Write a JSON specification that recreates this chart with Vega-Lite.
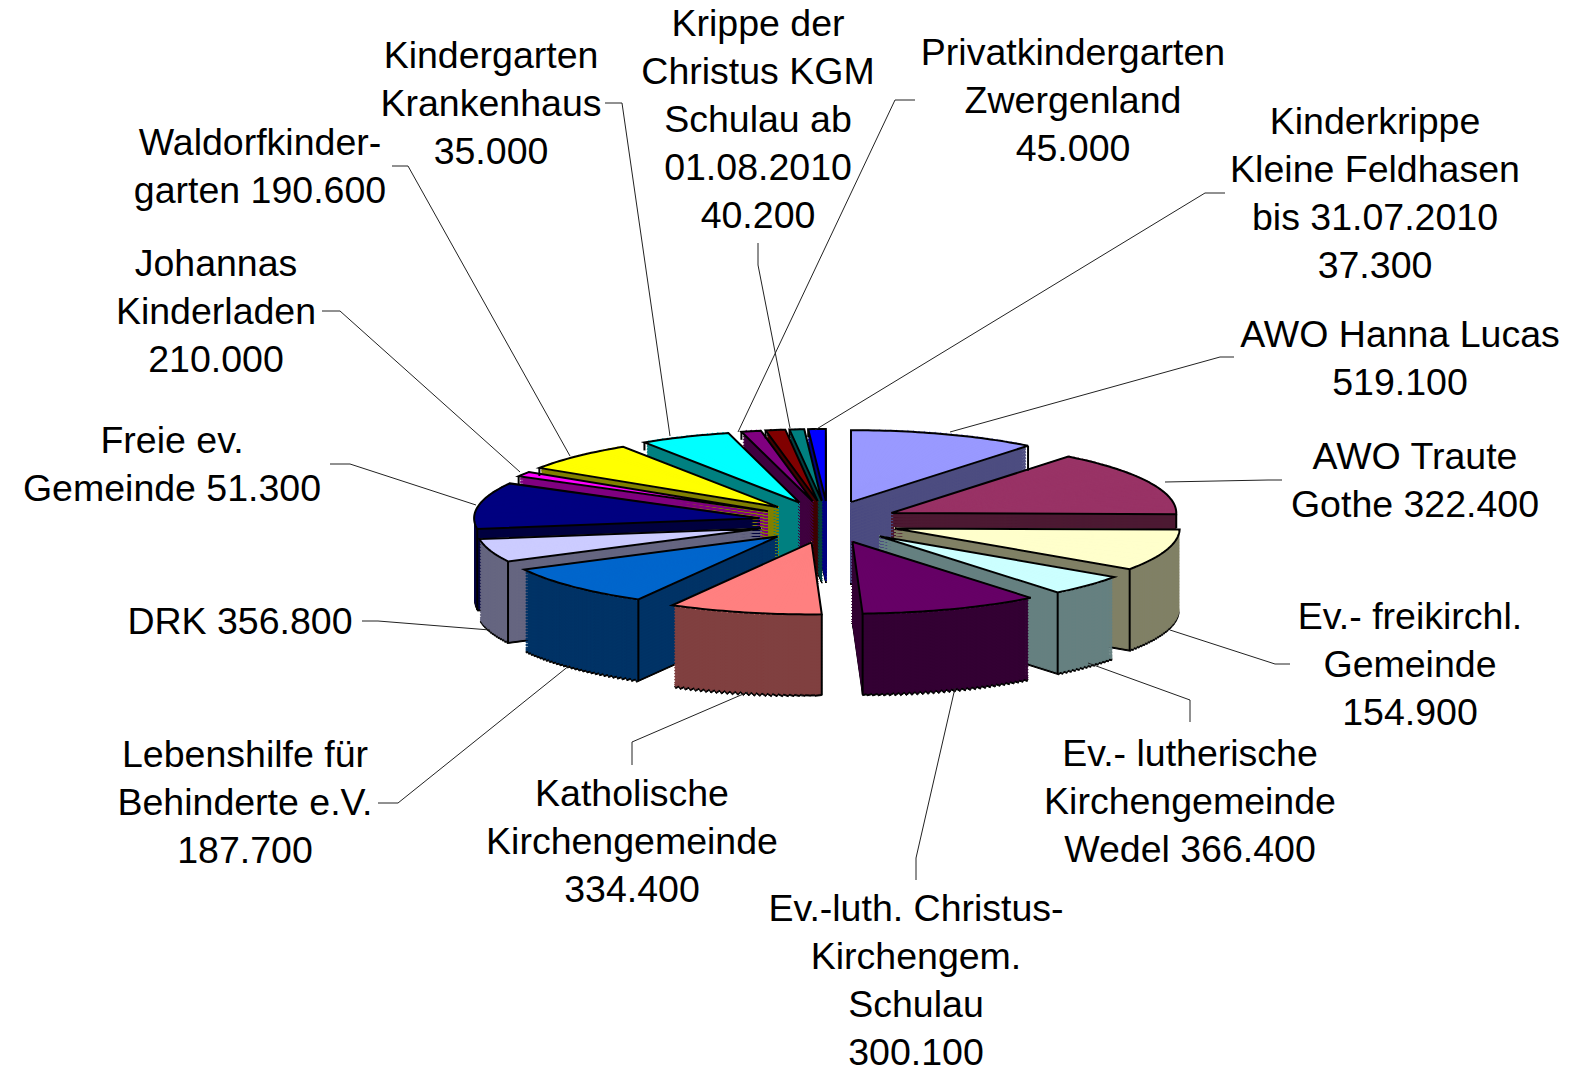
{"$schema":"https://vega.github.io/schema/vega-lite/v6.json","width":1569,"height":1071,"autosize":{"type":"none"},"padding":0,"background":"white","config":{"view":{"stroke":null}},
"datasets":{"slices":[{"i":1,"name":"AWO Hanna Lucas","drawn":336},{"i":2,"name":"AWO Traute Gothe","drawn":460},{"i":3,"name":"Ev.- freikirchl. Gemeinde","drawn":293},{"i":4,"name":"Ev.- lutherische Kirchengemeinde Wedel","drawn":147},{"i":5,"name":"Ev.-luth. Christus-Kirchengem. Schulau","drawn":321},{"i":6,"name":"Katholische Kirchengemeinde","drawn":274},{"i":7,"name":"Lebenshilfe für Behinderte e.V.","drawn":293},{"i":8,"name":"DRK","drawn":164},{"i":9,"name":"Freie ev. Gemeinde","drawn":328},{"i":10,"name":"Johannas Kinderladen","drawn":35},{"i":11,"name":"Waldorfkindergarten","drawn":210},{"i":12,"name":"Kindergarten Krankenhaus","drawn":162},{"i":13,"name":"Privatkindergarten Zwergenland","drawn":35},{"i":14,"name":"ohne Beschriftung","drawn":35},{"i":15,"name":"Krippe der Christus KGM Schulau","drawn":26},{"i":16,"name":"Kinderkrippe Kleine Feldhasen","drawn":31}],
"labels":[{"i":0,"label":"AWO Hanna Lucas\n519.100","value":519100},{"i":1,"label":"AWO Traute\nGothe 322.400","value":322400},{"i":2,"label":"Ev.- freikirchl.\nGemeinde\n154.900","value":154900},{"i":3,"label":"Ev.- lutherische\nKirchengemeinde\nWedel 366.400","value":366400},{"i":4,"label":"Ev.-luth. Christus-\nKirchengem.\nSchulau\n300.100","value":300100},{"i":5,"label":"Katholische\nKirchengemeinde\n334.400","value":334400},{"i":6,"label":"Lebenshilfe für\nBehinderte e.V.\n187.700","value":187700},{"i":7,"label":"DRK 356.800","value":356800},{"i":8,"label":"Freie ev.\nGemeinde 51.300","value":51300},{"i":9,"label":"Johannas\nKinderladen\n210.000","value":210000},{"i":10,"label":"Waldorfkinder-\ngarten 190.600","value":190600},{"i":11,"label":"Kindergarten\nKrankenhaus\n35.000","value":35000},{"i":12,"label":"Krippe der\nChristus KGM\nSchulau ab\n01.08.2010\n40.200","value":40200},{"i":13,"label":"Privatkindergarten\nZwergenland\n45.000","value":45000},{"i":14,"label":"Kinderkrippe\nKleine Feldhasen\nbis 31.07.2010\n37.300","value":37300}]},
"data":{"name":"slices"},
"transform":[{"joinaggregate":[{"op":"sum","field":"drawn","as":"total"}]},{"window":[{"op":"sum","field":"drawn","as":"cum"}],"sort":[{"field":"i","order":"ascending"}]},{"calculate":"datum.cum/datum.total*2*PI","as":"a1"},{"calculate":"(datum.cum-datum.drawn)/datum.total*2*PI","as":"a0"},{"calculate":"(datum.a0+datum.a1)/2","as":"m"},{"calculate":"828+70*sin(datum.m)","as":"xc"},{"calculate":"522-21*cos(datum.m)","as":"yc"},{"calculate":"ceil((datum.a1-datum.a0)/0.02)","as":"n"},{"calculate":"(datum.a1-datum.a0)/datum.n","as":"da"}],
"layer":[
{"transform":[{"calculate":"sequence(0,datum.n)","as":"ks"},{"flatten":["ks"],"as":["k"]},{"calculate":"[0,3,6,9,12,15,18,21,24,27,30,33,36,39,42,45,48,51,54,57,60,63,66,69,72,75,78,80,82]","as":"ds"},{"flatten":["ds"],"as":["d"]},{"calculate":"datum.a0+datum.k*datum.da","as":"u0"},{"calculate":"min(datum.a1,datum.u0+datum.da+0.004)","as":"u1"},{"calculate":"(datum.u0+datum.u1)/2","as":"um"},{"calculate":"atan2(285*sin(datum.u0),72*cos(datum.u0))+(datum.u0>PI?2*PI:0)","as":"t0"},{"calculate":"atan2(285*sin(datum.u1),72*cos(datum.u1))+(datum.u1>PI?2*PI:0)","as":"t1"},{"calculate":"sqrt(pow(285*sin(datum.um),2)+pow(72*cos(datum.um),2))-0.5","as":"r"},{"calculate":"datum.yc+datum.d","as":"yd"},{"calculate":"datum.d==0?datum.name:datum.d==82?'Kante':datum.name+' Wand'","as":"part"},{"calculate":"round(-cos(datum.m)*1000)*1000-datum.d","as":"z"}],
"mark":{"type":"arc","strokeWidth":1,"strokeJoin":"round"},
"encoding":{"x":{"field":"xc","type":"quantitative","scale":null},"y":{"field":"yd","type":"quantitative","scale":null},"theta":{"field":"t0","type":"quantitative","scale":null,"stack":null},"theta2":{"field":"t1"},"radius":{"field":"r","type":"quantitative","scale":null},"order":{"field":"z","type":"quantitative"},
"stroke":{"field":"part","type":"nominal","legend":null,"scale":{"domain":["Kante","AWO Hanna Lucas","AWO Traute Gothe","Ev.- freikirchl. Gemeinde","Ev.- lutherische Kirchengemeinde Wedel","Ev.-luth. Christus-Kirchengem. Schulau","Katholische Kirchengemeinde","Lebenshilfe für Behinderte e.V.","DRK","Freie ev. Gemeinde","Johannas Kinderladen","Waldorfkindergarten","Kindergarten Krankenhaus","Privatkindergarten Zwergenland","ohne Beschriftung","Krippe der Christus KGM Schulau","Kinderkrippe Kleine Feldhasen","AWO Hanna Lucas Wand","AWO Traute Gothe Wand","Ev.- freikirchl. Gemeinde Wand","Ev.- lutherische Kirchengemeinde Wedel Wand","Ev.-luth. Christus-Kirchengem. Schulau Wand","Katholische Kirchengemeinde Wand","Lebenshilfe für Behinderte e.V. Wand","DRK Wand","Freie ev. Gemeinde Wand","Johannas Kinderladen Wand","Waldorfkindergarten Wand","Kindergarten Krankenhaus Wand","Privatkindergarten Zwergenland Wand","ohne Beschriftung Wand","Krippe der Christus KGM Schulau Wand","Kinderkrippe Kleine Feldhasen Wand"],"range":["#000000","#9999FF","#993366","#FFFFCC","#CCFFFF","#660066","#FF8080","#0066CC","#CCCCFF","#000080","#FF00FF","#FFFF00","#00FFFF","#800080","#800000","#008080","#0000FF","#4D4D80","#4D1A33","#808066","#668080","#330033","#804040","#003366","#666680","#000040","#800080","#808000","#008080","#400040","#400000","#004040","#000080"]}},
"color":{"field":"part","type":"nominal","legend":null,"scale":{"domain":["Kante","AWO Hanna Lucas","AWO Traute Gothe","Ev.- freikirchl. Gemeinde","Ev.- lutherische Kirchengemeinde Wedel","Ev.-luth. Christus-Kirchengem. Schulau","Katholische Kirchengemeinde","Lebenshilfe für Behinderte e.V.","DRK","Freie ev. Gemeinde","Johannas Kinderladen","Waldorfkindergarten","Kindergarten Krankenhaus","Privatkindergarten Zwergenland","ohne Beschriftung","Krippe der Christus KGM Schulau","Kinderkrippe Kleine Feldhasen","AWO Hanna Lucas Wand","AWO Traute Gothe Wand","Ev.- freikirchl. Gemeinde Wand","Ev.- lutherische Kirchengemeinde Wedel Wand","Ev.-luth. Christus-Kirchengem. Schulau Wand","Katholische Kirchengemeinde Wand","Lebenshilfe für Behinderte e.V. Wand","DRK Wand","Freie ev. Gemeinde Wand","Johannas Kinderladen Wand","Waldorfkindergarten Wand","Kindergarten Krankenhaus Wand","Privatkindergarten Zwergenland Wand","ohne Beschriftung Wand","Krippe der Christus KGM Schulau Wand","Kinderkrippe Kleine Feldhasen Wand"],"range":["#000000","#9999FF","#993366","#FFFFCC","#CCFFFF","#660066","#FF8080","#0066CC","#CCCCFF","#000080","#FF00FF","#FFFF00","#00FFFF","#800080","#800000","#008080","#0000FF","#4D4D80","#4D1A33","#808066","#668080","#330033","#804040","#003366","#666680","#000040","#800080","#808000","#008080","#400040","#400000","#004040","#000080"]}}}},
{"transform":[{"calculate":"sequence(-1,datum.n+2)","as":"ks"},{"flatten":["ks"],"as":["k"]},{"calculate":"datum.a0+datum.k*datum.da","as":"u"},{"calculate":"(datum.k<0||datum.k>datum.n)?datum.xc:datum.xc+285*sin(datum.u)","as":"px"},{"calculate":"(datum.k<0||datum.k>datum.n)?datum.yc:datum.yc-72*cos(datum.u)","as":"py"}],
"mark":{"type":"line","stroke":"#000000","strokeWidth":2},
"encoding":{"x":{"field":"px","type":"quantitative","scale":null},"y":{"field":"py","type":"quantitative","scale":null},"detail":{"field":"name"},"order":{"field":"k","type":"quantitative"}}},
{"transform":[{"calculate":"sin(datum.a1)>0?datum.a1:datum.a0","as":"f"},{"calculate":"datum.f<1?25:cos(datum.f)>-0.05?(sin(datum.f)>0?14:8):81","as":"vis"},{"calculate":"[0,1]","as":"ks"},{"flatten":["ks"],"as":["k"]},{"calculate":"datum.xc+285*sin(datum.f)","as":"px"},{"calculate":"datum.yc-72*cos(datum.f)+datum.k*datum.vis","as":"py"}],
"mark":{"type":"line","stroke":"#000000","strokeWidth":2},
"encoding":{"x":{"field":"px","type":"quantitative","scale":null},"y":{"field":"py","type":"quantitative","scale":null},"detail":{"field":"name"},"order":{"field":"k","type":"quantitative"}}},
{"data":{"name":"labels"},"transform":[{"calculate":"[0,1,2]","as":"ps"},{"flatten":["ps"],"as":["p"]},{"calculate":"datum.i*3+datum.p","as":"pk"}],
"mark":{"type":"line","stroke":"#222222","strokeWidth":1},
"encoding":{"x":{"field":"pk","type":"quantitative","axis":null,"scale":{"nice":false,"zero":false,"domain":[0,1,2,3,4,5,6,7,8,9,10,11,12,13,14,15,16,17,18,19,20,21,22,23,24,25,26,27,28,29,30,31,32,33,34,35,36,37,38,39,40,41,42,43,44],"range":[1234,1220,950,1282,1268,1165,1290,1275,1170,1190,1190,1088,916,916,955,632,632,748,378,398,570,362,378,490,330,350,476,322,340,520,392,408,570,605,622,670,758,758,790,915,895,738,1225,1205,815]}},"y":{"field":"pk","type":"quantitative","axis":null,"scale":{"nice":false,"zero":false,"domain":[0,1,2,3,4,5,6,7,8,9,10,11,12,13,14,15,16,17,18,19,20,21,22,23,24,25,26,27,28,29,30,31,32,33,34,35,36,37,38,39,40,41,42,43,44],"range":[357,357,432,480,480,482,664,664,630,722,700,663,880,858,688,765,742,692,803,803,665,621,621,630,464,464,505,311,311,472,166,166,456,103,103,436,243,265,428,100,100,432,193,193,430]}},"detail":{"field":"i"},"order":{"field":"p","type":"quantitative"}}},
{"data":{"name":"labels"},
"mark":{"type":"text","font":"Liberation Sans","fontSize":37.5,"lineHeight":48,"lineBreak":"\n","align":"center","baseline":"middle","fill":"#000000"},
"encoding":{"text":{"field":"label"},"x":{"field":"i","type":"quantitative","axis":null,"scale":{"nice":false,"zero":false,"domain":[0,1,2,3,4,5,6,7,8,9,10,11,12,13,14],"range":[1400,1415,1410,1190,916,632,245,240,172,216,260,491,758,1073,1375]}},"y":{"field":"i","type":"quantitative","axis":null,"scale":{"nice":false,"zero":false,"domain":[0,1,2,3,4,5,6,7,8,9,10,11,12,13,14],"range":[336,458,618,755,910,795,756,623,442,265,144,57,25,54,123]}}}}
],"resolve":{"scale":{"x":"independent","y":"independent"}}}
